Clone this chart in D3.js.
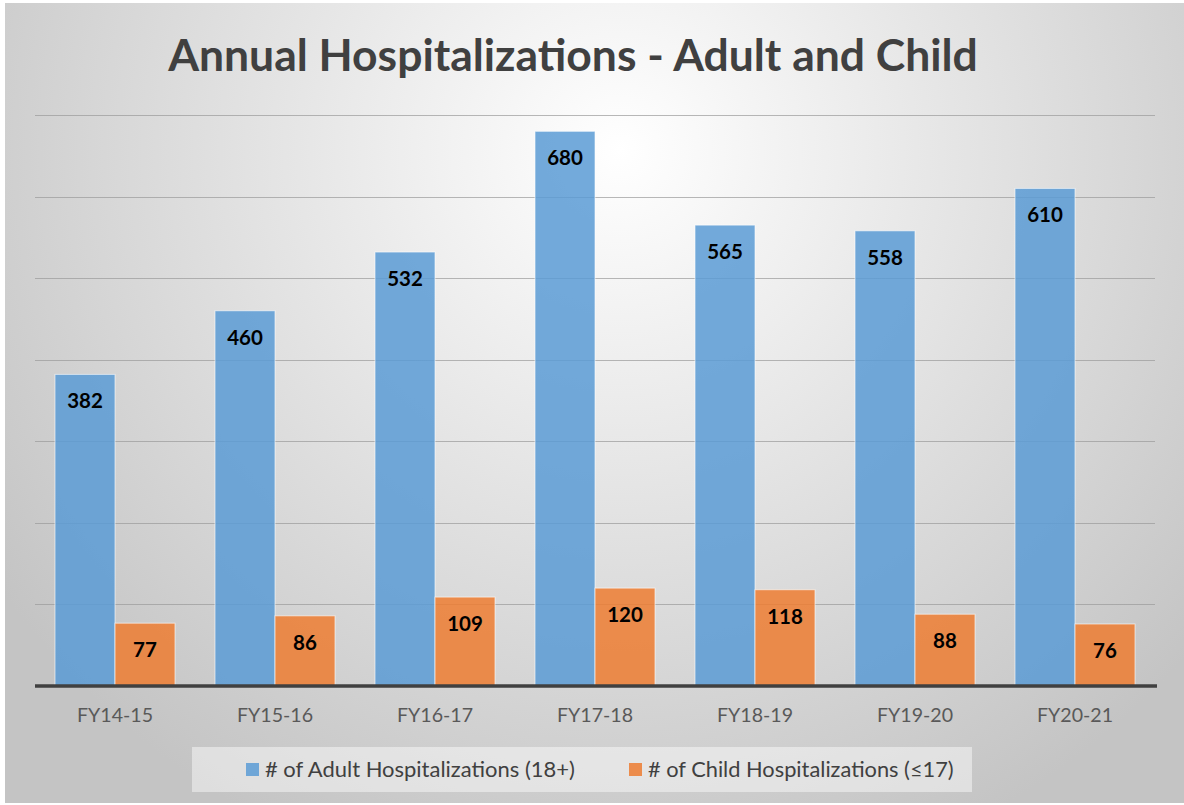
<!DOCTYPE html>
<html>
<head>
<meta charset="utf-8">
<script src="https://cdn.jsdelivr.net/npm/d3@7"></script>
<style>
  html, body { margin: 0; padding: 0; background: #ffffff; }
  svg { display: block; }
</style>
</head>
<body>
<div id="chart"></div>
<script>
const categories = ['FY14-15', 'FY15-16', 'FY16-17', 'FY17-18', 'FY18-19', 'FY19-20', 'FY20-21']
const adultValues = [382, 460, 532, 680, 565, 558, 610]
const childValues = [77, 86, 109, 120, 118, 88, 76]
const seriesNames = ['# of Adult Hospitalizations (18+)', '# of Child Hospitalizations (≤17)']
const gridTicks = [0, 100, 200, 300, 400, 500, 600, 700]

const width = 1184, height = 805
const margin = {left: 35, right: 29, top: 115, bottom: 119}
const innerwidth = width - margin.left - margin.right
const innerheight = height - margin.top - margin.bottom
const font = 'Lato, "Open Sans", sans-serif'

const svg = d3.select('#chart')
  .append('svg')
  .attr('width', width)
  .attr('height', height)

const defs = svg.append('defs')
const grad = defs.append('radialGradient')
  .attr('id', 'bg')
  .attr('gradientUnits', 'userSpaceOnUse')
  .attr('cx', 620).attr('cy', 150).attr('r', 760)
grad.append('stop').attr('offset', '0%').attr('stop-color', '#ffffff')
grad.append('stop').attr('offset', '100%').attr('stop-color', '#c4c4c4')

svg.append('rect')
  .attr('x', 5).attr('y', 3)
  .attr('width', width - 5).attr('height', height - 5)
  .attr('fill', 'url(#bg)')

// fit a text element's font size to a target width
function fitWidth(sel, size, target) {
  sel.attr('font-size', size)
  const w = sel.node().getComputedTextLength()
  const s = size * target / w
  sel.attr('font-size', s)
  return s
}

const title = svg.append('text')
  .attr('x', 573)
  .attr('y', 71)
  .attr('text-anchor', 'middle')
  .attr('font-family', font)
  .attr('font-weight', 'bold')
  .attr('fill', '#404040')
  .text('Annual Hospitalizations - Adult and Child')
fitWidth(title, 40, 810)

const g = svg.append('g')
  .attr('transform', `translate(${margin.left}, ${margin.top})`)

const yScale = d3.scaleLinear()
  .domain([0, 700])
  .range([innerheight, 0])

const x0 = d3.scaleBand()
  .domain(categories)
  .range([0, innerwidth])
  .paddingInner(0.25)
  .paddingOuter(0.125)

const x1 = d3.scaleBand()
  .domain([0, 1])
  .range([0, x0.bandwidth()])

// gridlines
g.append('g')
  .selectAll('line')
  .data(gridTicks.slice(1))
  .join('line')
  .attr('x1', 0).attr('x2', innerwidth)
  .attr('y1', d => Math.round(yScale(d)) + 0.5)
  .attr('y2', d => Math.round(yScale(d)) + 0.5)
  .attr('stroke', '#9a9a9a')
  .attr('stroke-opacity', 0.7)
  .attr('stroke-width', 1.2)

const colors = ['#5B9BD5', '#ED7D31']
const rows = categories.map((c, i) => ({cat: c, vals: [adultValues[i], childValues[i]]}))

const groups = g.selectAll('.grp')
  .data(rows)
  .join('g')
  .attr('class', 'grp')
  .attr('transform', d => `translate(${x0(d.cat)}, 0)`)

groups.selectAll('rect')
  .data(d => d.vals.map((v, k) => ({k, v})))
  .join('rect')
  .attr('x', d => x1(d.k))
  .attr('y', d => yScale(d.v))
  .attr('width', x1.bandwidth())
  .attr('height', d => innerheight - yScale(d.v))
  .attr('fill', d => colors[d.k])
  .attr('fill-opacity', 0.85)
  .attr('stroke', '#ffffff')
  .attr('stroke-opacity', 0.6)
  .attr('stroke-width', 1)

groups.selectAll('text')
  .data(d => d.vals.map((v, k) => ({k, v})))
  .join('text')
  .attr('x', d => x1(d.k) + x1.bandwidth() / 2)
  .attr('y', d => yScale(d.v) + 34)
  .attr('text-anchor', 'middle')
  .attr('font-family', font)
  .attr('font-weight', 'bold')
  .attr('font-size', 20.5)
  .attr('fill', '#000000')
  .text(d => d.v)

// baseline
g.append('line')
  .attr('x1', 0).attr('x2', innerwidth + 2)
  .attr('y1', innerheight).attr('y2', innerheight)
  .attr('stroke', '#404040')
  .attr('stroke-width', 3.5)

// category labels
const xAxis = d3.axisBottom(x0).tickSize(0).tickPadding(22)
const ax = g.append('g')
  .attr('transform', `translate(0, ${innerheight})`)
  .call(xAxis)
ax.select('.domain').remove()
const tickText = ax.selectAll('text')
  .attr('font-family', font)
  .attr('fill', '#595959')
const catSize = fitWidth(d3.select(tickText.nodes()[0]), 18, 76)
tickText.attr('font-size', catSize)

// legend
const leg = svg.append('g')
leg.append('rect')
  .attr('x', 192).attr('y', 747)
  .attr('width', 780).attr('height', 45)
  .attr('fill', '#ffffff')
  .attr('fill-opacity', 0.45)

const legX = [246, 629]
const legW = [310, 306]
seriesNames.forEach((name, i) => {
  leg.append('rect')
    .attr('x', legX[i]).attr('y', 763)
    .attr('width', 13).attr('height', 13)
    .attr('fill', colors[i])
    .attr('fill-opacity', 0.85)
  const t = leg.append('text')
    .attr('x', legX[i] + 19)
    .attr('y', 777)
    .attr('font-family', font)
    .attr('fill', '#404040')
    .text(name)
  fitWidth(t, 19.5, legW[i])
})
</script>
</body>
</html>
